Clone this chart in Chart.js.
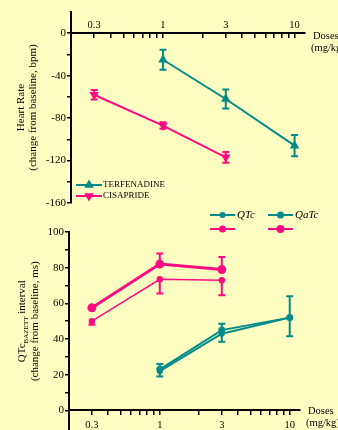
<!DOCTYPE html>
<html>
<head>
<meta charset="utf-8">
<script src="https://cdn.jsdelivr.net/npm/chart.js@4.4.0/dist/chart.umd.min.js"></script>
<style>
  html, body { margin: 0; padding: 0; background: #ffffc2; }
  #wrap { position: relative; width: 338px; height: 430px; overflow: hidden; }
  canvas { position: absolute; left: 0; }
  #hrChart { top: 0; }
  #qtChart { top: 208px; }
</style>
</head>
<body>
<div id="wrap">
  <canvas id="hrChart" width="338" height="212"></canvas>
  <canvas id="qtChart" width="338" height="230"></canvas>
</div>
<script>
// doses (mg/kg) on a log axis
const doseTicks = [0.3, 0.4, 0.5, 0.6, 0.7, 0.8, 0.9, 1, 2, 3, 4, 5, 6, 7, 8, 9, 10];
const doseLabels = [0.3, 1, 3, 10];

// heart rate, change from baseline (bpm)
const terfDoses = [1, 3, 10];
const terfHR = [-25, -62, -106];
const terfHRErr = [9.5, 9, 10];
const cisDoses = [0.3, 1, 3];
const cisHR = [-58, -87, -117];
const cisHRErr = [4.5, 3, 5];
const hrTicks = [-160, -140, -120, -100, -80, -60, -40, -20, 0];
const hrLabels = [-160, -120, -80, -40, 0];

// QTc interval, change from baseline (ms)
const terfQTc = [22, 43, 52];
const terfQTcErr = [3, 4.5, 10.5];   // lower half bars
const terfQaTc = [23, 45, 52];
const terfQaTcErr = [3, 3.5, 12];    // upper half bars
const cisQTc = [50, 73.5, 73];
const cisQTcErr = [2, 8, 8.5];       // lower half bars
const cisQaTc = [57.5, 82, 79];
const cisQaTcErr = [1, 6, 7];        // upper half bars
const qtTicks = [0, 10, 20, 30, 40, 50, 60, 70, 80, 90, 100];
const qtLabels = [0, 20, 40, 60, 80, 100];

const teal = '#008b8b';
const pink = '#ff0a82';
const serif = "'Liberation Serif', 'Times New Roman', serif";

const pts = (xs, ys) => xs.map((x, i) => ({ x: x, y: ys[i] }));

// vertical error bars (both sides, or one half)
const errorBars = {
  id: 'errorBars',
  afterDatasetsDraw(chart) {
    const { ctx, scales: { x, y } } = chart;
    chart.data.datasets.forEach(ds => {
      if (!ds.err) return;
      ctx.save();
      ctx.strokeStyle = ds.borderColor;
      ctx.lineWidth = 2;
      ds.data.forEach((p, j) => {
        const e = ds.err[j];
        const px = x.getPixelForValue(p.x);
        const top = y.getPixelForValue(ds.errDir === 'down' ? p.y : p.y + e);
        const bot = y.getPixelForValue(ds.errDir === 'up' ? p.y : p.y - e);
        ctx.beginPath();
        ctx.moveTo(px, top);
        ctx.lineTo(px, bot);
        if (ds.errDir !== 'down') { ctx.moveTo(px - 3.5, top); ctx.lineTo(px + 3.5, top); }
        if (ds.errDir !== 'up') { ctx.moveTo(px - 3.5, bot); ctx.lineTo(px + 3.5, bot); }
        ctx.stroke();
      });
      ctx.restore();
    });
  }
};

// "Doses (mg/kg)" at the right end of the x axis
const doseLabel = {
  id: 'doseLabel',
  afterDraw(chart, args, opts) {
    const { ctx, chartArea } = chart;
    const y0 = chart.scales.y.getPixelForValue(0);
    ctx.save();
    ctx.fillStyle = '#000';
    ctx.font = '10.5px ' + serif;
    ctx.textBaseline = 'middle';
    ctx.fillText('Doses', chartArea.right + 8, y0 + opts.dy);
    ctx.fillText('(mg/kg)', chartArea.right + 6, y0 + opts.dy + 12);
    ctx.restore();
  }
};

function legendLine(ctx, ds, x0, y, len) {
  ctx.strokeStyle = ds.borderColor;
  ctx.fillStyle = ds.backgroundColor;
  ctx.lineWidth = 2;
  ctx.beginPath();
  ctx.moveTo(x0, y);
  ctx.lineTo(x0 + len, y);
  ctx.stroke();
  Chart.helpers.drawPoint(ctx, {
    pointStyle: ds.pointStyle, radius: ds.pointRadius, rotation: ds.pointRotation || 0, borderWidth: 1
  }, x0 + len / 2, y);
}

const hrLegend = {
  id: 'hrLegend',
  afterDraw(chart) {
    const ctx = chart.ctx;
    ctx.save();
    chart.data.datasets.forEach((ds, i) => {
      const y = 185 + i * 11;
      legendLine(ctx, ds, 76, y, 26);
      ctx.fillStyle = '#000';
      ctx.font = '9px ' + serif;
      ctx.textBaseline = 'middle';
      ctx.fillText(ds.label, 103, y);
    });
    ctx.restore();
  }
};

const qtLegend = {
  id: 'qtLegend',
  afterDraw(chart) {
    const ctx = chart.ctx;
    const cols = [210, 268];
    ctx.save();
    chart.data.datasets.forEach(ds => {
      const col = ds.label === 'QTc' ? 0 : 1;
      const row = ds.borderColor === teal ? 0 : 1;
      const y = 7 + row * 14;
      legendLine(ctx, ds, cols[col], y, 25);
      if (row === 0) {
        ctx.fillStyle = '#000';
        ctx.font = 'italic 11px ' + serif;
        ctx.textBaseline = 'middle';
        ctx.fillText(ds.label, cols[col] + 27, y);
      }
    });
    ctx.restore();
  }
};

// y title with the BAZETT subscript
const qtTitle = {
  id: 'qtTitle',
  afterDraw(chart) {
    const { ctx, scales: { y } } = chart;
    const cy = (y.getPixelForValue(0) + y.getPixelForValue(100)) / 2;
    const big = '11px ' + serif, small = '7px ' + serif;
    ctx.save();
    ctx.fillStyle = '#000';
    ctx.textBaseline = 'middle';
    ctx.translate(22, cy);
    ctx.rotate(-Math.PI / 2);
    ctx.font = big;
    const w1 = ctx.measureText('QTc').width;
    const w3 = ctx.measureText(' interval').width;
    ctx.font = small;
    const w2 = ctx.measureText('BAZETT').width;
    let x = -(w1 + w2 + w3) / 2;
    ctx.font = big;
    ctx.fillText('QTc', x, 0);
    x += w1;
    ctx.font = small;
    ctx.fillText('BAZETT', x, 4);
    x += w2;
    ctx.font = big;
    ctx.fillText(' interval', x, 0);
    ctx.textAlign = 'center';
    ctx.fillText('(change from baseline, ms)', 0, 13);
    ctx.restore();
  }
};

function doseAxis(labelPad) {
  return {
    type: 'logarithmic',
    min: 0.2,
    max: 12,
    position: { y: 0 },
    afterFit: s => { s.height = 0; },
    afterBuildTicks: s => { s.ticks = doseTicks.map(v => ({ value: v })); },
    grid: { drawOnChartArea: false, tickLength: 4, color: '#000', lineWidth: 1.5 },
    border: { color: '#000', width: 2 },
    ticks: {
      autoSkip: false, maxRotation: 0, padding: labelPad, color: '#000',
      font: { family: serif, size: 10.5 },
      callback: v => doseLabels.includes(v) ? String(v) : ''
    }
  };
}

function valueAxis(min, max, tickVals, labelVals, width) {
  return {
    min: min,
    max: max,
    afterFit: s => { s.width = width; },
    afterBuildTicks: s => { s.ticks = tickVals.map(v => ({ value: v })); },
    grid: { drawOnChartArea: false, tickLength: 4, color: '#000', lineWidth: 1.5 },
    border: { color: '#000', width: 2 },
    ticks: {
      autoSkip: false, padding: 1, color: '#000',
      font: { family: serif, size: 11 },
      callback: v => labelVals.includes(v) ? String(v) : ''
    }
  };
}

document.addEventListener('DOMContentLoaded', function () {
  // Heart rate
  const hrY = valueAxis(-160, 20, hrTicks, hrLabels, 71);
  hrY.title = {
    display: true,
    text: ['Heart Rate', '(change from baseline, bpm)'],
    color: '#000',
    font: { family: serif, size: 11, lineHeight: 1.1 },
    padding: { top: 15, bottom: 0 }
  };
  new Chart(document.getElementById('hrChart'), {
    type: 'line',
    data: {
      datasets: [
        {
          label: 'TERFENADINE', data: pts(terfDoses, terfHR), err: terfHRErr,
          borderColor: teal, backgroundColor: teal, borderWidth: 2,
          pointStyle: 'triangle', pointRadius: 3.5
        },
        {
          label: 'CISAPRIDE', data: pts(cisDoses, cisHR), err: cisHRErr,
          borderColor: pink, backgroundColor: pink, borderWidth: 2,
          pointStyle: 'triangle', pointRotation: 180, pointRadius: 3.5
        }
      ]
    },
    options: {
      responsive: false,
      animation: false,
      layout: { padding: { left: 0, top: 12, right: 33, bottom: 9 } },
      plugins: { legend: { display: false }, tooltip: { enabled: false }, doseLabel: { dy: 3 } },
      scales: { x: doseAxis(-18), y: hrY }
    },
    plugins: [errorBars, hrLegend, doseLabel]
  });

  // QTc interval
  new Chart(document.getElementById('qtChart'), {
    type: 'line',
    data: {
      datasets: [
        {
          label: 'QTc', data: pts(terfDoses, terfQTc), err: terfQTcErr, errDir: 'down',
          borderColor: teal, backgroundColor: teal, borderWidth: 2, pointRadius: 2
        },
        {
          label: 'QaTc', data: pts(terfDoses, terfQaTc), err: terfQaTcErr, errDir: 'up',
          borderColor: teal, backgroundColor: teal, borderWidth: 2, pointRadius: 2.5
        },
        {
          label: 'QTc', data: pts(cisDoses, cisQTc), err: cisQTcErr, errDir: 'down',
          borderColor: pink, backgroundColor: pink, borderWidth: 1.5, pointRadius: 2.5
        },
        {
          label: 'QaTc', data: pts(cisDoses, cisQaTc), err: cisQaTcErr, errDir: 'up',
          borderColor: pink, backgroundColor: pink, borderWidth: 3, pointRadius: 3
        }
      ]
    },
    options: {
      responsive: false,
      animation: false,
      layout: { padding: { left: 0, top: 24, right: 38, bottom: 8 } },
      plugins: { legend: { display: false }, tooltip: { enabled: false }, doseLabel: { dy: 1 } },
      scales: { x: doseAxis(5), y: valueAxis(-11, 100, qtTicks, qtLabels, 69) }
    },
    plugins: [errorBars, qtLegend, qtTitle, doseLabel]
  });
});
</script>
</body>
</html>
